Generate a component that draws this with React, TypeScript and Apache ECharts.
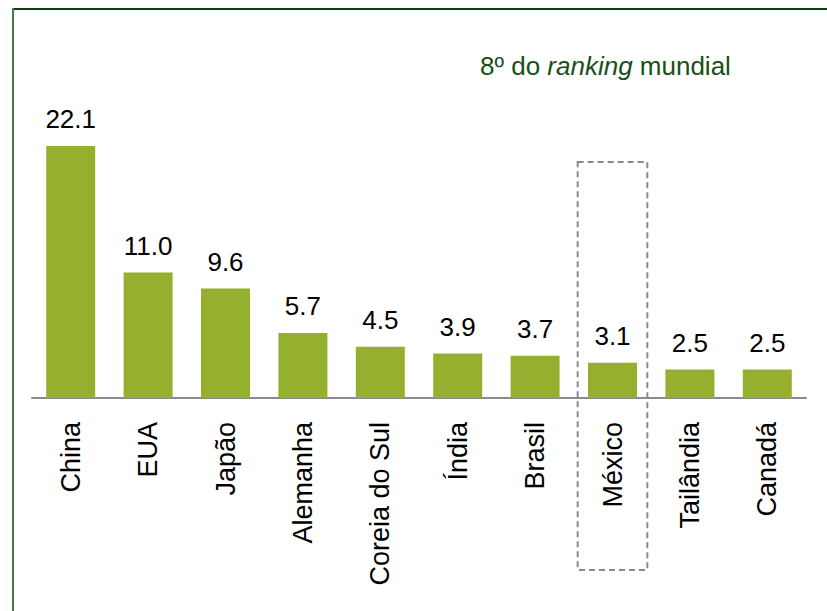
import React, { useEffect, useRef } from "react";
import * as echarts from "echarts";

const categories = ["China", "EUA", "Japão", "Alemanha", "Coreia do Sul", "Índia", "Brasil", "México", "Tailândia", "Canadá"];
const values = [22.1, 11.0, 9.6, 5.7, 4.5, 3.9, 3.7, 3.1, 2.5, 2.5];
const highlighted = "México";
const titleParts = ["8º do ", "ranking", " mundial"];

export default function App() {
  const ref = useRef<HTMLDivElement>(null);
  useEffect(() => {
    if (!ref.current) return;
    const chart = echarts.init(ref.current, null, { renderer: "svg" });
    const font = "'Liberation Sans', Arial, sans-serif";
    chart.setOption({
      animation: false,
      backgroundColor: "#ffffff",
      title: {
        text: `{a|${titleParts[0]}}{b|${titleParts[1]}}{a|${titleParts[2]}}`,
        left: 475,
        top: 48,
        textStyle: {
          fontWeight: "normal",
          rich: {
            a: { fontFamily: font, fontSize: 26, fontWeight: "normal", color: "#174f17" },
            b: { fontFamily: font, fontSize: 26, fontWeight: "normal", color: "#174f17", fontStyle: "italic" },
          },
        },
      },
      grid: { left: 32, right: 21, top: 56, bottom: 213, containLabel: false },
      xAxis: {
        type: "category",
        data: categories,
        axisLine: { show: true, lineStyle: { color: "#8a8a8a", width: 2 } },
        axisTick: { show: false },
        axisLabel: {
          rotate: 90,
          margin: 24,
          fontFamily: font,
          fontSize: 27,
          color: "#000000",
          interval: 0,
        },
      },
      yAxis: { type: "value", min: 0, max: 30, show: false, splitLine: { show: false } },
      series: [
        {
          type: "bar",
          data: values,
          barWidth: 49,
          itemStyle: { color: "#95B02E" },
          label: {
            show: true,
            position: "top",
            distance: 14,
            fontFamily: font,
            fontSize: 26,
            color: "#000000",
            formatter: (p: any) => Number(p.value).toFixed(1),
          },
        },
      ],
    });
    const cx = chart.convertToPixel({ xAxisIndex: 0 }, highlighted) as number;
    const c0 = chart.convertToPixel({ xAxisIndex: 0 }, categories[0]) as number;
    const c1 = chart.convertToPixel({ xAxisIndex: 0 }, categories[1]) as number;
    const band = Math.abs(c1 - c0);
    const boxW = band * 0.9;
    chart.setOption({
      graphic: [
        {
          type: "rect",
          shape: { x: cx - boxW / 2, y: 162, width: boxW, height: 408 },
          style: { fill: "none", stroke: "#8a8a8a", lineWidth: 2, lineDash: [6, 4] },
          z: 10,
        },
        {
          type: "line",
          shape: { x1: 12, y1: 9, x2: 827, y2: 9 },
          style: { stroke: "#0f3f0f", lineWidth: 2 },
        },
        {
          type: "line",
          shape: { x1: 13, y1: 8, x2: 13, y2: 611 },
          style: { stroke: "#4a7a4a", lineWidth: 2 },
        },
      ],
    });
    return () => chart.dispose();
  }, []);
  return (
    <div
      ref={ref}
      style={{ position: "absolute", left: 0, top: 0, width: 827, height: 611 }}
    />
  );
}
